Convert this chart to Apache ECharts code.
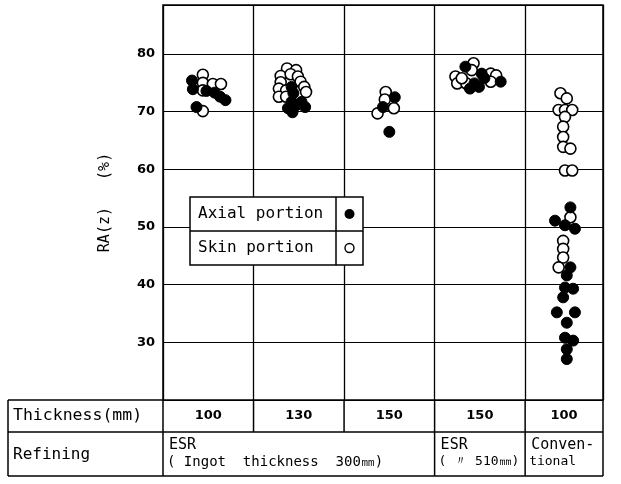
<!DOCTYPE html>
<html>
<head>
<meta charset="utf-8">
<script src="https://cdn.jsdelivr.net/npm/echarts@6/dist/echarts.min.js"></script>
<style>
  html, body { margin: 0; padding: 0; background: #fff; }
  #chart { width: 621px; height: 484px; }
</style>
</head>
<body>
<div id="chart"></div>
<script>
// Column headings of the table under the plot
const thicknessLabels = ['100', '130', '150', '150', '100'];
const refiningGroups = [
  { from: 0, to: 3, lines: ['ESR', '( Ingot  thickness  300㎜)'] },
  { from: 3, to: 4, lines: ['ESR', '( 〃 510㎜)'] },
  { from: 4, to: 5, lines: ['Conven-', 'tional'] }
];
const yLabelTicks = [30, 40, 50, 60, 70, 80];

// RA(z) values, [column position, RA(z) %]; column i spans x = i .. i+1
const axialPortion = [
  // ESR, 100 mm
  [0.32, 75.4], [0.33, 73.9], [0.48, 73.6], [0.57, 73.3], [0.63, 72.6], [0.69, 72.0], [0.37, 70.8],
  // ESR, 130 mm
  [1.42, 74.3], [1.44, 73.2], [1.42, 71.7], [1.47, 71.1], [1.53, 71.7], [1.57, 70.8], [1.38, 70.6], [1.43, 69.9],
  // ESR, 150 mm
  [2.56, 72.5], [2.43, 70.8], [2.50, 66.5],
  // ESR (510 mm ingot), 150 mm
  [3.34, 77.8], [3.52, 76.6], [3.55, 75.8], [3.44, 74.9], [3.73, 75.2], [3.49, 74.3], [3.39, 74.0],
  // Conventional, 100 mm
  [4.50, 53.4], [4.33, 51.1], [4.44, 50.3], [4.55, 49.7], [4.50, 43.0], [4.46, 41.6], [4.44, 39.5],
  [4.53, 39.3], [4.42, 37.8], [4.35, 35.2], [4.55, 35.2], [4.46, 33.4], [4.44, 30.8], [4.53, 30.3],
  [4.46, 28.8], [4.46, 27.1]
];
const skinPortion = [
  // ESR, 100 mm
  [0.44, 76.4], [0.44, 75.0], [0.44, 73.7], [0.55, 74.8], [0.64, 74.8], [0.44, 70.1],
  // ESR, 130 mm
  [1.37, 77.5], [1.47, 77.2], [1.30, 76.2], [1.41, 76.5], [1.49, 76.1], [1.52, 75.2], [1.30, 75.1],
  [1.56, 74.3], [1.58, 73.4], [1.28, 74.0], [1.36, 73.7], [1.28, 72.6], [1.36, 72.6],
  // ESR, 150 mm
  [2.46, 73.4], [2.45, 72.1], [2.37, 69.7], [2.55, 70.6],
  // ESR (510 mm ingot), 150 mm
  [3.43, 78.4], [3.23, 76.1], [3.25, 74.9], [3.35, 74.9], [3.41, 77.2], [3.62, 76.6], [3.68, 76.3],
  [3.62, 75.2], [3.30, 75.8],
  // Conventional, 100 mm
  [4.39, 73.2], [4.46, 72.3], [4.37, 70.3], [4.44, 70.3], [4.52, 70.3], [4.44, 69.1], [4.42, 67.4],
  [4.42, 65.6], [4.42, 63.9], [4.50, 63.6], [4.44, 59.8], [4.52, 59.8], [4.50, 51.7], [4.42, 47.6],
  [4.42, 46.2], [4.42, 44.7], [4.37, 43.0]
];

const SANS = 'DejaVu Sans';
const MONO = 'DejaVu Sans Mono';
const chart = echarts.init(document.getElementById('chart'), null, { renderer: 'canvas' });

chart.setOption({
  animation: false,
  backgroundColor: '#fff',
  grid: {
    left: 163, right: 18, top: 5, bottom: 84,
    show: true, borderColor: '#000', borderWidth: 1.5, backgroundColor: 'transparent'
  },
  xAxis: {
    type: 'value', min: 0, max: 4.86, interval: 1,
    axisLine: { show: false }, axisTick: { show: false }, axisLabel: { show: false },
    splitLine: { show: true, lineStyle: { color: '#000', width: 1.3 } }
  },
  yAxis: {
    type: 'value', min: 20, max: 88.5, interval: 10,
    name: 'RA(z)   (%)', nameLocation: 'middle', nameGap: 50, nameRotate: 90,
    nameTextStyle: { color: '#000', fontFamily: MONO, fontSize: 15 },
    axisLine: { show: false }, axisTick: { show: false },
    axisLabel: {
      color: '#000', fontFamily: SANS, fontSize: 13, fontWeight: 'bold', margin: 8,
      formatter: v => (yLabelTicks.includes(v) ? String(v) : '')
    },
    splitLine: { show: true, lineStyle: { color: '#000', width: 1.2 } }
  },
  series: [
    {
      name: 'Skin portion', type: 'scatter', data: skinPortion, symbol: 'circle', symbolSize: 11,
      itemStyle: { color: '#fff', borderColor: '#000', borderWidth: 1.6, opacity: 1 }, z: 3
    },
    {
      name: 'Axial portion', type: 'scatter', data: axialPortion, symbol: 'circle', symbolSize: 11,
      itemStyle: { color: '#000', borderColor: '#000', borderWidth: 1, opacity: 1 }, z: 4
    }
  ]
});

// Table under the plot and the boxed key, laid out from the axes
function drawExtras() {
  const colX = [0, 1, 2, 3, 4].map(i => chart.convertToPixel({ xAxisIndex: 0 }, i));
  const rightX = chart.convertToPixel({ xAxisIndex: 0 }, 4.86);
  colX.push(rightX);
  const tableTop = chart.convertToPixel({ yAxisIndex: 0 }, 20);
  const tableLeft = 8;
  const rowMid = 432;
  const tableBottom = 476;
  const line = (x1, y1, x2, y2, w) => ({
    type: 'line', shape: { x1, y1, x2, y2 }, style: { stroke: '#000', lineWidth: w || 1.5 }, z: 10
  });
  const text = (x, y, s, opt) => ({
    type: 'text', x, y, z: 11,
    style: Object.assign({ text: s, fill: '#000', font: '16px "' + MONO + '"', textVerticalAlign: 'middle' }, opt || {})
  });
  const g = [];
  // outline of the table
  g.push(line(tableLeft, tableTop, colX[0], tableTop));
  g.push(line(tableLeft, tableTop, tableLeft, tableBottom));
  g.push(line(tableLeft, rowMid, rightX, rowMid));
  g.push(line(tableLeft, tableBottom, rightX, tableBottom));
  // column dividers: every column in the thickness row, merged groups in the refining row
  colX.forEach(x => g.push(line(x, tableTop, x, rowMid)));
  g.push(line(colX[0], rowMid, colX[0], tableBottom));
  refiningGroups.forEach(gr => g.push(line(colX[gr.to], rowMid, colX[gr.to], tableBottom)));
  // row headings
  g.push(text(13, (tableTop + rowMid) / 2, 'Thickness(mm)', { font: '16.5px "' + MONO + '"' }));
  g.push(text(13, (rowMid + tableBottom) / 2 + 1, 'Refining'));
  // thickness values
  thicknessLabels.forEach((s, i) => {
    g.push(text((colX[i] + colX[i + 1]) / 2, (tableTop + rowMid) / 2, s,
      { textAlign: 'center', font: 'bold 13px "' + SANS + '"' }));
  });
  // refining groups
  refiningGroups.forEach(gr => {
    const x0 = colX[gr.from];
    const wide = gr.to - gr.from > 1;
    g.push(text(x0 + 6, rowMid + 13, gr.lines[0], { font: '15px "' + MONO + '"' }));
    g.push(text(x0 + 4, rowMid + 30, gr.lines[1], { font: (wide ? 14 : 13) + 'px "' + MONO + '"' }));
  });

  // boxed key
  const kx = 190, ky = 197, kw = 173, kh = 68, kSplit = 336, kMid = 231;
  g.push({ type: 'rect', shape: { x: kx, y: ky, width: kw, height: kh },
    style: { fill: '#fff', stroke: '#000', lineWidth: 1.5 }, z: 12 });
  g.push(Object.assign(line(kx, kMid, kx + kw, kMid), { z: 13 }));
  g.push(Object.assign(line(kSplit, ky, kSplit, ky + kh), { z: 13 }));
  g.push(Object.assign(text(198, (ky + kMid) / 2, 'Axial portion', { font: '16px "' + MONO + '"' }), { z: 13 }));
  g.push(Object.assign(text(198, (kMid + ky + kh) / 2, 'Skin portion', { font: '16px "' + MONO + '"' }), { z: 13 }));
  g.push({ type: 'circle', shape: { cx: (kSplit + kx + kw) / 2, cy: (ky + kMid) / 2, r: 5 },
    style: { fill: '#000' }, z: 13 });
  g.push({ type: 'circle', shape: { cx: (kSplit + kx + kw) / 2, cy: (kMid + ky + kh) / 2, r: 4.5 },
    style: { fill: '#fff', stroke: '#000', lineWidth: 1.4 }, z: 13 });

  chart.setOption({ graphic: { elements: g } });
}
drawExtras();
</script>
</body>
</html>
